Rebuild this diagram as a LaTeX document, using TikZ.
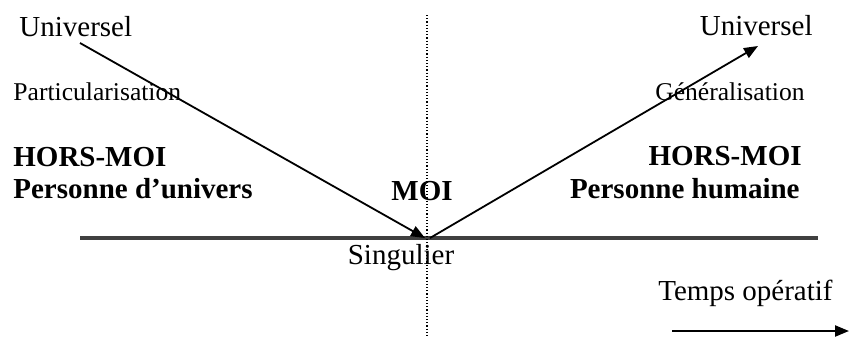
\documentclass[tikz,border=0pt]{standalone}
\usepackage{fontspec}
\setmainfont{Liberation Serif}
\usetikzlibrary{arrows.meta,positioning,calc}
\tikzset{>={Triangle[length=7pt,width=5.5pt]},
  lbl/.style={inner sep=0pt, font=\fontsize{14.5}{17}\selectfont},
  lblsm/.style={inner sep=0pt, font=\fontsize{12.8}{15}\selectfont},
  lblbf/.style={inner sep=0pt, font=\fontsize{14.5}{17}\selectfont\bfseries}}

\begin{document}
\begin{tikzpicture}[x=0.5pt, y=-0.5pt]
  \useasboundingbox (0,0) rectangle (849,337);
  % left side
  \node[lbl, anchor=base west] (univl) at (19,36) {Universel};
  \node[lblsm, anchor=base west] (part) at (13,100) {Particularisation};
  \node[lblbf, anchor=base west] (horsl) at (13,166) {HORS-MOI};
  \node[lblbf, anchor=base west] (persl) at (13,198) {Personne d'univers};
  % centre
  \node[lblbf, anchor=base] (moi) at (422,200) {MOI};
  \node[lbl, anchor=base] (sing) at (401,264) {Singulier};
  % right side
  \node[lbl, anchor=base east] (univr) at (813,35) {Universel};
  \node[lblsm, anchor=base east] (gen) at (805,100) {Généralisation};
  \node[lblbf, anchor=base east] (horsr) at (802,165) {HORS-MOI};
  \node[lblbf, anchor=base east] (persr) at (800,198) {Personne humaine};
  \node[lbl, anchor=base east] (temps) at (833,300) {Temps opératif};
  % lines
  \coordinate (pstart) at (80,43);
  \coordinate (pend) at (425,238);
  \coordinate (gstart) at (430,238);
  \coordinate (gend) at (758,46);
  \coordinate (axl) at (80,238);
  \coordinate (axr) at (818,238);
  \coordinate (vtop) at (427,15);
  \coordinate (vbot) at (427,337);
  \coordinate (tl) at (672,331);
  \coordinate (tr) at (849,331);
  \draw[line width=1.6pt, black!75] (axl) -- (axr);
  \draw[densely dotted, line width=0.6pt] (vtop) -- (vbot);
  \draw[->, line width=0.9pt] (pstart) -- (pend);
  \draw[->, line width=0.9pt] (gstart) -- (gend);
  \draw[->, line width=1.1pt] (tl) -- (tr);
\end{tikzpicture}
\end{document}
